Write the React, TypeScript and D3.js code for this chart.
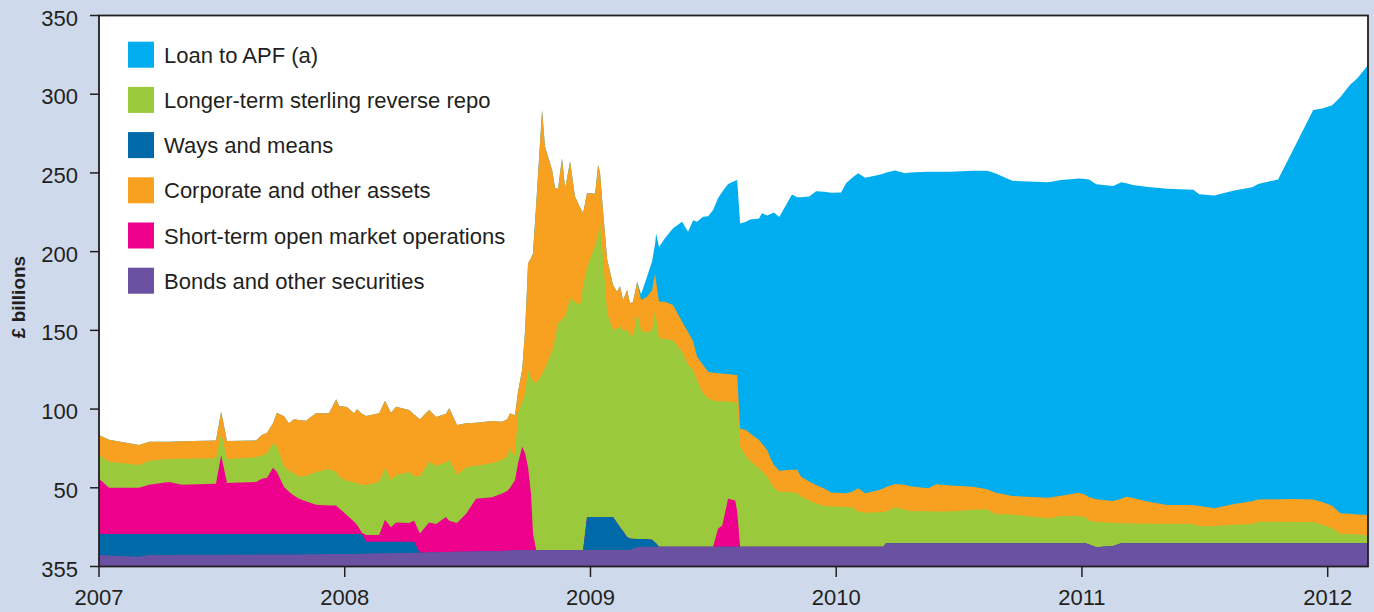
import React from 'react';
import * as d3 from 'd3';

// Decimal-year dates shared by all series
const dates = [
  2007.000, 2007.041, 2007.163, 2007.204, 2007.285, 2007.338, 2007.476, 2007.497, 2007.521, 2007.639,
  2007.663, 2007.684, 2007.708, 2007.724, 2007.753, 2007.773, 2007.794, 2007.814, 2007.842, 2007.883,
  2007.936, 2007.965, 2007.977, 2008.009, 2008.038, 2008.050, 2008.070, 2008.087, 2008.140, 2008.164,
  2008.188, 2008.209, 2008.262, 2008.282, 2008.306, 2008.343, 2008.372, 2008.412, 2008.425, 2008.457,
  2008.494, 2008.534, 2008.600, 2008.640, 2008.661, 2008.673, 2008.693, 2008.705, 2008.722, 2008.734,
  2008.746, 2008.758, 2008.766, 2008.779, 2008.803, 2008.815, 2008.844, 2008.856, 2008.868, 2008.884,
  2008.897, 2008.917, 2008.937, 2008.958, 2008.970, 2008.986, 2009.019, 2009.031, 2009.039, 2009.051,
  2009.068, 2009.092, 2009.108, 2009.120, 2009.133, 2009.149, 2009.161, 2009.173, 2009.190, 2009.206,
  2009.230, 2009.251, 2009.263, 2009.267, 2009.279, 2009.303, 2009.336, 2009.373, 2009.397, 2009.418,
  2009.434, 2009.458, 2009.479, 2009.499, 2009.519, 2009.536, 2009.560, 2009.589, 2009.597, 2009.609,
  2009.633, 2009.650, 2009.686, 2009.698, 2009.719, 2009.735, 2009.747, 2009.768, 2009.820, 2009.841,
  2009.857, 2009.890, 2009.918, 2009.951, 2009.979, 2010.020, 2010.040, 2010.065, 2010.089, 2010.118,
  2010.171, 2010.191, 2010.203, 2010.240, 2010.280, 2010.301, 2010.374, 2010.407, 2010.464, 2010.557,
  2010.614, 2010.647, 2010.716, 2010.862, 2010.915, 2010.989, 2011.013, 2011.029, 2011.058, 2011.127,
  2011.160, 2011.180, 2011.208, 2011.261, 2011.347, 2011.453, 2011.477, 2011.538, 2011.619, 2011.693,
  2011.717, 2011.798, 2011.859, 2011.941, 2011.978, 2012.018, 2012.051, 2012.091, 2012.120, 2012.164,
];

// Bonds and other securities (£bn)
const bonds = [
  7.3, 7.0, 6.2, 7.3, 7.3, 7.4, 7.5, 7.5, 7.5, 7.6,
  7.6, 7.6, 7.7, 7.7, 7.7, 7.7, 7.7, 7.7, 7.8, 7.8,
  8.0, 8.0, 8.0, 8.0, 8.0, 8.0, 8.1, 8.1, 8.4, 8.4,
  8.4, 8.5, 8.6, 8.7, 8.8, 9.0, 9.1, 9.2, 9.2, 9.3,
  9.4, 9.5, 9.7, 9.9, 10.0, 10.0, 10.5, 10.5, 10.5, 10.5,
  10.5, 10.5, 10.5, 10.5, 10.5, 10.5, 10.5, 10.5, 10.5, 10.5,
  10.5, 10.5, 10.5, 10.5, 10.5, 10.5, 10.5, 10.5, 10.5, 10.5,
  10.5, 10.5, 10.5, 10.5, 10.5, 10.5, 10.5, 11.5, 12.2, 12.6,
  12.6, 12.6, 12.6, 12.6, 12.6, 12.6, 12.6, 12.6, 12.6, 12.6,
  12.6, 12.6, 12.6, 12.6, 12.6, 12.6, 12.6, 12.6, 12.6, 12.6,
  12.6, 12.6, 12.6, 12.6, 12.6, 12.6, 12.6, 12.6, 12.6, 12.6,
  12.6, 12.6, 12.6, 12.6, 12.6, 12.6, 12.6, 12.6, 12.6, 12.6,
  12.6, 12.6, 14.7, 14.7, 14.7, 14.7, 14.7, 14.7, 14.7, 14.7,
  14.7, 14.7, 14.7, 14.7, 14.7, 14.7, 14.7, 14.0, 12.2, 13.0,
  14.7, 14.7, 14.7, 14.7, 14.7, 14.7, 14.7, 14.7, 14.7, 14.7,
  14.7, 14.7, 14.7, 14.7, 14.7, 14.7, 14.7, 14.7, 14.7, 14.7,
];

// Ways and means (£bn)
const waysAndMeans = [
  13.3, 13.6, 14.4, 13.3, 13.3, 13.2, 13.1, 13.1, 13.1, 13.0,
  13.0, 13.0, 12.9, 12.9, 12.9, 12.9, 12.9, 12.9, 12.8, 12.8,
  12.6, 12.6, 12.6, 12.6, 12.6, 12.6, 12.5, 7.7, 7.4, 7.4,
  7.4, 7.3, 7.2, 7.1, 0, 0, 0, 0, 0, 0,
  0, 0, 0, 0, 0, 0, 0, 0, 0, 0,
  0, 0, 0, 0, 0, 0, 0, 0, 0, 0,
  0, 0, 0, 0, 0, 20.9, 20.9, 20.9, 20.9, 20.9,
  20.9, 20.9, 17.3, 14.6, 11.9, 8.3, 7.3, 6.1, 5.3, 4.9,
  4.8, 4.4, 2.7, 2.2, 0, 0, 0, 0, 0, 0,
  0, 0, 0, 0, 0, 0, 0, 0, 0, 0,
  0, 0, 0, 0, 0, 0, 0, 0, 0, 0,
  0, 0, 0, 0, 0, 0, 0, 0, 0, 0,
  0, 0, 0, 0, 0, 0, 0, 0, 0, 0,
  0, 0, 0, 0, 0, 0, 0, 0, 0, 0,
  0, 0, 0, 0, 0, 0, 0, 0, 0, 0,
  0, 0, 0, 0, 0, 0, 0, 0, 0, 0,
];

// Short-term open market operations (£bn)
const shortTermOMO = [
  35.2, 29.4, 29.4, 31.4, 33.1, 31.4, 31.9, 50.0, 32.4, 33.1,
  35.2, 35.8, 42.2, 39.4, 29.9, 26.9, 24.4, 22.4, 20.9, 18.7,
  18.2, 18.2, 16.4, 11.9, 7.9, 5.9, 0.9, 4.2, 4.2, 13.9,
  9.2, 12.2, 11.9, 13.2, 12.2, 19.0, 17.9, 22.2, 19.8, 18.3,
  24.1, 33.5, 34.3, 36.4, 38.0, 40.0, 44.5, 55.0, 65.5, 61.5,
  52.5, 35.5, 10.5, 0, 0, 0, 0, 0, 0, 0,
  0, 0, 0, 0, 0, 0, 0, 0, 0, 0,
  0, 0, 0, 0, 0, 0, 0, 0, 0, 0,
  0, 0, 0, 0, 0, 0, 0, 0, 0, 0,
  0, 0, 0, 0, 11.4, 13.4, 30.4, 29.4, 22.4, 0,
  0, 0, 0, 0, 0, 0, 0, 0, 0, 0,
  0, 0, 0, 0, 0, 0, 0, 0, 0, 0,
  0, 0, 0, 0, 0, 0, 0, 0, 0, 0,
  0, 0, 0, 0, 0, 0, 0, 0, 0, 0,
  0, 0, 0, 0, 0, 0, 0, 0, 0, 0,
  0, 0, 0, 0, 0, 0, 0, 0, 0, 0,
];

// Longer-term sterling reverse repo (£bn)
const longerTermRepo = [
  15.0, 16.6, 14.5, 15.2, 14.6, 16.4, 16.2, 14.0, 15.1, 15.7,
  14.7, 15.5, 15.5, 16.0, 13.0, 13.5, 14.0, 14.0, 16.0, 20.7,
  23.2, 21.2, 20.0, 22.0, 25.0, 26.5, 30.3, 31.8, 33.9, 32.7,
  30.0, 30.0, 32.3, 28.5, 36.0, 38.6, 37.0, 34.6, 39.1, 30.5,
  29.5, 21.0, 21.6, 21.4, 22.0, 25.1, 15.0, 31.8, 29.0, 38.0,
  61.8, 74.0, 97.0, 105.9, 111.5, 115.5, 126.5, 134.5, 144.0, 146.5,
  148.5, 159.9, 157.5, 155.6, 167.5, 158.6, 172.6, 178.6, 186.6, 165.4,
  129.4, 118.8, 123.2, 127.2, 127.6, 131.2, 130.2, 128.4, 143.3, 132.5,
  131.1, 133.2, 147.7, 143.2, 132.3, 131.9, 131.3, 123.8, 115.4, 112.2,
  105.4, 97.4, 94.2, 92.9, 81.0, 79.0, 61.8, 62.0, 68.7, 63.4,
  57.4, 54.4, 49.8, 47.9, 44.4, 40.2, 37.4, 34.9, 34.6, 34.3,
  31.7, 29.4, 27.4, 25.8, 25.5, 25.3, 25.2, 25.0, 22.4, 21.6,
  21.9, 22.0, 20.3, 22.9, 21.3, 20.6, 20.4, 20.3, 20.2, 21.3,
  21.6, 18.6, 18.3, 15.9, 17.4, 17.3, 16.8, 15.1, 16.3, 14.8,
  12.7, 12.7, 12.6, 12.5, 12.4, 12.3, 10.8, 11.1, 11.8, 12.3,
  13.8, 13.7, 13.6, 13.5, 11.8, 9.8, 6.1, 5.9, 5.8, 4.8,
];

// Corporate and other assets (£bn)
const corporateAssets = [
  12.7, 13.9, 12.7, 12.1, 11.0, 11.1, 11.3, 13.7, 11.6, 10.6,
  13.0, 13.1, 12.7, 21.7, 32.0, 30.0, 34.5, 36.0, 35.1, 37.3,
  35.3, 46.2, 45.0, 46.8, 43.8, 46.9, 45.2, 43.8, 43.4, 42.9,
  42.7, 43.5, 39.4, 39.0, 36.5, 32.8, 31.0, 31.0, 32.4, 31.8,
  28.0, 27.3, 26.9, 24.3, 23.5, 22.2, 26.0, 13.7, 20.0, 40.0,
  67.8, 76.0, 81.0, 113.6, 168.0, 140.7, 114.9, 95.3, 85.5, 102.3,
  81.3, 86.8, 67.0, 61.9, 46.5, 47.1, 33.0, 45.0, 32.0, 29.4,
  34.2, 28.6, 23.6, 25.7, 19.3, 25.6, 19.2, 22.0, 20.1, 19.3,
  22.9, 25.4, 23.2, 23.0, 23.3, 23.7, 22.2, 19.1, 21.0, 18.2,
  15.3, 18.0, 16.9, 17.5, 17.7, 17.5, 17.5, 17.6, 17.9, 11.5,
  16.7, 17.5, 18.0, 17.5, 17.0, 15.2, 14.5, 13.4, 14.3, 14.6,
  12.7, 12.0, 11.8, 11.1, 8.9, 8.8, 8.7, 9.9, 14.7, 12.3,
  14.0, 14.9, 15.5, 14.8, 16.0, 15.7, 14.6, 17.2, 16.6, 14.7,
  12.7, 13.7, 11.8, 13.1, 12.9, 14.9, 14.0, 14.9, 14.2, 13.8,
  15.6, 16.9, 16.2, 14.3, 12.0, 12.0, 13.0, 11.2, 13.2, 14.5,
  14.0, 14.3, 14.5, 14.3, 14.5, 14.1, 13.0, 12.9, 12.5, 13.2,
];

// Loan to APF (£bn)
const loanToAPF = [
  0, 0, 0, 0, 0, 0, 0, 0, 0, 0,
  0, 0, 0, 0, 0, 0, 0, 0, 0, 0,
  0, 0, 0, 0, 0, 0, 0, 0, 0, 0,
  0, 0, 0, 0, 0, 0, 0, 0, 0, 0,
  0, 0, 0, 0, 0, 0, 0, 0, 0, 0,
  0, 0, 0, 0, 0, 0, 0, 0, 0, 0,
  0, 0, 0, 0, 0, 0, 0, 0, 0, 0,
  0, 0, 0, 0, 0, 0, 0, 0, 0, 3.7,
  12.6, 18.4, 18.8, 30.6, 34.8, 40.3, 48.7, 63.5, 63.7, 77.0,
  85.7, 94.2, 98.8, 103.5, 111.2, 115.5, 120.7, 123.4, 123.9, 130.4,
  132.3, 135.9, 140.6, 146.4, 149.0, 156.0, 160.3, 161.1, 174.8, 173.0,
  177.5, 181.0, 186.6, 188.5, 190.4, 190.8, 196.9, 199.5, 200.1, 200.5,
  200.2, 200.0, 199.8, 199.1, 197.8, 199.2, 201.1, 198.6, 199.3, 200.7,
  202.4, 202.8, 200.2, 200.4, 200.5, 199.5, 200.7, 201.9, 200.1, 200.1,
  201.1, 199.2, 198.8, 199.7, 200.9, 200.3, 198.0, 198.6, 199.1, 199.4,
  200.5, 203.2, 221.8, 247.5, 250.0, 254.4, 264.2, 272.5, 277.0, 285.8,
];

const seriesKeys = ['bonds', 'waysAndMeans', 'shortTermOMO', 'longerTermRepo', 'corporateAssets', 'loanToAPF'];
const seriesColors = ['#6a51a2', '#0069a8', '#ec008c', '#9bc93c', '#f8a01f', '#00aeef'];

const legendLabels = [
  'Loan to APF (a)',
  'Longer-term sterling reverse repo',
  'Ways and means',
  'Corporate and other assets',
  'Short-term open market operations',
  'Bonds and other securities',
];
const legendColors = ['#00aeef', '#9bc93c', '#0069a8', '#f8a01f', '#ec008c', '#6a51a2'];

const yTickValues = [0, 50, 100, 150, 200, 250, 300, 350];
const yTickLabels = ['355', '50', '100', '150', '200', '250', '300', '350'];
const xTickValues = [2007, 2008, 2009, 2010, 2011, 2012];
const yAxisTitle = '£ billions';

const FONT = '"Liberation Sans", Arial, Helvetica, sans-serif';
const INK = '#231f20';

export default function App() {
  const W = 1374;
  const H = 612;
  const left = 99, right = 1368, top = 15.5, bottom = 566.5;

  const x = d3.scaleLinear().domain([2007, 2012.164]).range([left, right]);
  const y = d3.scaleLinear().domain([0, 350]).range([bottom, top]);

  const rows = dates.map((d, i) => ({
    date: d,
    bonds: bonds[i],
    waysAndMeans: waysAndMeans[i],
    shortTermOMO: shortTermOMO[i],
    longerTermRepo: longerTermRepo[i],
    corporateAssets: corporateAssets[i],
    loanToAPF: loanToAPF[i],
  }));

  const stacked = d3.stack<any>().keys(seriesKeys)(rows);
  // Each layer is painted from the baseline up to its stacked top, top layer first,
  // so neighbouring layers never leave anti-aliasing seams between them.
  const area = d3
    .area<any>()
    .x((d) => x(d.data.date))
    .y0(() => y(0))
    .y1((d) => y(d[1]))
    .curve(d3.curveLinear);

  const layers = stacked.map((s, i) => ({ s, color: seriesColors[i] })).reverse();

  return (
    <svg
      width={W}
      height={H}
      style={{ position: 'absolute', left: 0, top: 0, display: 'block' }}
      fontFamily={FONT}
    >
      <rect x={0} y={0} width={W} height={H} fill="#cedaeb" />
      <defs>
        <clipPath id="plotClip">
          <rect x={left} y={top} width={right - left} height={bottom - top} />
        </clipPath>
      </defs>
      <rect x={left} y={top} width={right - left} height={bottom - top} fill="#ffffff" />
      <g clipPath="url(#plotClip)">
        {layers.map(({ s, color }) => (
          <path key={s.key} d={area(s) || ''} fill={color} />
        ))}
      </g>

      {/* frame */}
      <rect x={left} y={top} width={right - left} height={bottom - top} fill="none" stroke={INK} strokeWidth={1.8} />

      {/* y ticks */}
      {yTickValues.map((v, i) => (
        <g key={v}>
          <line x1={90} x2={left} y1={y(v)} y2={y(v)} stroke={INK} strokeWidth={1.5} />
          <text x={78} y={y(v) + 10} textAnchor="end" fontSize={22} fill={INK}>
            {yTickLabels[i]}
          </text>
        </g>
      ))}

      {/* x ticks */}
      {xTickValues.map((v) => (
        <g key={v}>
          <line x1={x(v)} x2={x(v)} y1={bottom} y2={577} stroke={INK} strokeWidth={1.5} />
          <text x={x(v)} y={605} textAnchor="middle" fontSize={22} fill={INK}>
            {v}
          </text>
        </g>
      ))}

      {/* y axis title */}
      <text
        transform={`translate(25, 297) rotate(-90)`}
        textAnchor="middle"
        fontSize={19}
        fontWeight="bold"
        fill={INK}
      >
        {yAxisTitle}
      </text>

      {/* legend */}
      {legendLabels.map((lab, i) => (
        <g key={lab} transform={`translate(128, ${41.7 + i * 45.2})`}>
          <rect x={0} y={0} width={26} height={26} fill={legendColors[i]} />
          <text x={36} y={21} fontSize={22} fill={INK}>
            {lab}
          </text>
        </g>
      ))}
    </svg>
  );
}
